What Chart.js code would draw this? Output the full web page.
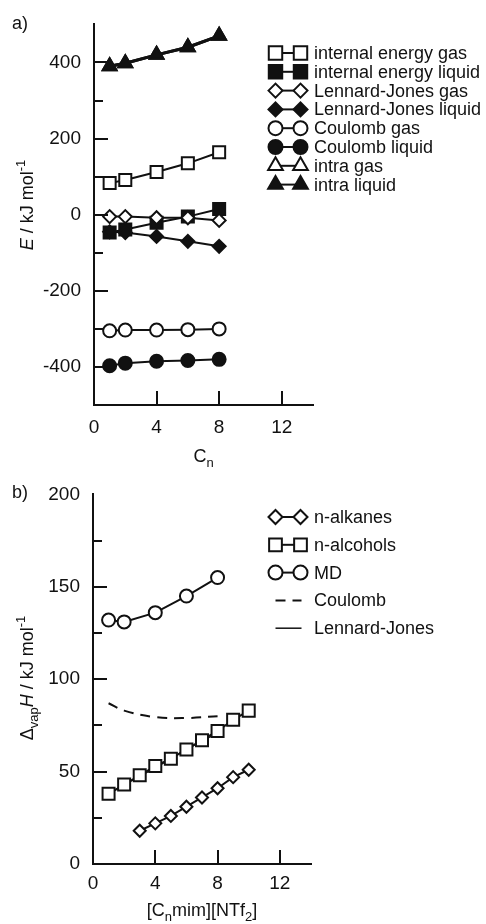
<!DOCTYPE html>
<html>
<head>
<meta charset="utf-8">
<script src="https://cdn.jsdelivr.net/npm/chart.js@4"></script>
<style>
html, body { margin: 0; padding: 0; background: #fff; }
canvas { position: absolute; left: 0; }
#chartA { top: 0; }
#chartB { top: 470px; }
</style>
</head>
<body>
<canvas id="chartA" width="486" height="470"></canvas>
<canvas id="chartB" width="486" height="454"></canvas>
<script>
// a) energy terms vs alkyl chain length
const cnA = [1, 2, 4, 6, 8];
const internalGas = [83, 91, 112, 135, 164];
const internalLiquid = [-47, -39, -21, -5, 15];
const ljGas = [-5, -5, -8, -8, -15];
const ljLiquid = [-45, -47, -57, -70, -83];
const coulombGas = [-305, -303, -303, -302, -300];
const coulombLiquid = [-397, -390, -385, -383, -380];
const intraGas = [390, 398, 420, 440, 470];
const intraLiquid = [390, 398, 420, 440, 470];
const yTicksA = [400, 200, 0, -200, -400];

// b) vaporisation enthalpy
const cnMD = [1, 2, 4, 6, 8];
const md = [132, 131, 136, 145, 155];
const cnAlcohols = [1, 2, 3, 4, 5, 6, 7, 8, 9, 10];
const alcohols = [38, 43, 48, 53, 57, 62, 67, 72, 78, 83];
const cnAlkanes = [3, 4, 5, 6, 7, 8, 9, 10];
const alkanes = [18, 22, 26, 31, 36, 41, 47, 51];
const coulombH = [87, 83, 79.5, 79, 80];
const ljH = [38, 43, 52, 62, 71];
const yTicksB = [0, 50, 100, 150, 200];
const xTicks = [0, 4, 8, 12];

const INK = '#111';
const FF = '"Liberation Sans", Arial, Helvetica, sans-serif';
const reg = '18px ' + FF;
const ital = 'italic 18px ' + FF;
const small = '13px ' + FF;

function series(xs, ys, style, filled, radius, extra) {
  return Object.assign({
    data: xs.map((x, i) => ({ x: x, y: ys[i] })),
    borderColor: INK,
    backgroundColor: filled ? INK : '#fff',
    pointStyle: style,
    pointRadius: radius,
    pointBorderWidth: 2,
    pointBackgroundColor: filled ? INK : '#fff',
    pointBorderColor: INK,
    borderWidth: 2,
    tension: 0,
    fill: false
  }, extra || {});
}

function richWidth(ctx, parts) {
  let w = 0;
  parts.forEach(p => { ctx.font = p.font; w += ctx.measureText(p.t).width; });
  return w;
}
function drawRich(ctx, parts, cx, y, rotate) {
  ctx.save();
  ctx.translate(cx, y);
  if (rotate) ctx.rotate(-Math.PI / 2);
  let x = -richWidth(ctx, parts) / 2;
  ctx.textBaseline = 'alphabetic';
  ctx.textAlign = 'left';
  parts.forEach(p => {
    ctx.font = p.font;
    ctx.fillText(p.t, x, p.dy || 0);
    x += ctx.measureText(p.t).width;
  });
  ctx.restore();
}

// inward tick marks, like the printed figure
const paperTicks = {
  id: 'paperTicks',
  afterDraw(chart, args, opts) {
    const { ctx, chartArea: a } = chart;
    const xs = chart.scales.x, ys = chart.scales.y;
    ctx.save();
    ctx.strokeStyle = INK;
    ctx.lineWidth = 2;
    ctx.beginPath();
    ys.ticks.forEach(t => {
      if (t.value <= ys.min || t.value >= ys.max) return;
      const py = Math.round(ys.getPixelForValue(t.value));
      const len = t.value % opts.yMajor === 0 ? 14 : 9;
      ctx.moveTo(a.left, py);
      ctx.lineTo(a.left + len, py);
    });
    xs.ticks.forEach(t => {
      if (t.value <= xs.min || t.value >= xs.max) return;
      const px = Math.round(xs.getPixelForValue(t.value));
      ctx.moveTo(px, a.bottom);
      ctx.lineTo(px, a.bottom - 14);
    });
    ctx.stroke();
    ctx.restore();
  }
};

// titles, panel letter and the legend
const paperText = {
  id: 'paperText',
  afterDraw(chart, args, opts) {
    const ctx = chart.ctx;
    const a = chart.chartArea;
    ctx.save();
    ctx.fillStyle = INK;
    ctx.font = reg;
    ctx.textBaseline = 'alphabetic';
    ctx.fillText(opts.panel, 12, opts.panelY);
    drawRich(ctx, opts.yTitle, 33, opts.yTitleY, true);
    drawRich(ctx, opts.xTitle, (a.left + a.right) / 2, opts.xTitleY, false);

    opts.legend.forEach((it, i) => {
      const y = opts.legendTop + i * opts.legendStep;
      const x1 = 275.5, x2 = 300.5;
      ctx.strokeStyle = INK;
      ctx.lineWidth = it.lineWidth || 2;
      ctx.setLineDash(it.dash || []);
      ctx.beginPath();
      ctx.moveTo(x1, y);
      ctx.lineTo(x2 + 1, y);
      ctx.stroke();
      ctx.setLineDash([]);
      if (it.style) {
        ctx.fillStyle = it.filled ? INK : '#fff';
        ctx.lineWidth = 2;
        [x1, x2].forEach(px => Chart.helpers.drawPoint(ctx, {
          pointStyle: it.style, radius: it.radius, rotation: 0, borderWidth: 2
        }, px, y));
      }
      ctx.fillStyle = INK;
      ctx.font = reg;
      ctx.textBaseline = 'middle';
      ctx.fillText(it.label, 314, y + 1);
    });
    ctx.restore();
  }
};

function axisScales(xHeight, yWidth, yMin, yMax, yStep, yLabels, xPad) {
  return {
    x: {
      type: 'linear', min: 0, max: 14,
      afterFit: s => { s.height = xHeight; },
      grid: { display: false, drawTicks: false },
      border: { color: INK, width: 2 },
      ticks: {
        stepSize: 4, includeBounds: false, padding: xPad, maxRotation: 0, autoSkip: false,
        color: INK, font: { family: FF, size: 19 },
        callback: v => xTicks.includes(v) ? String(v) : ''
      }
    },
    y: {
      type: 'linear', min: yMin, max: yMax,
      afterFit: s => { s.width = yWidth; },
      grid: { display: false, drawTicks: false },
      border: { color: INK, width: 2 },
      ticks: {
        stepSize: yStep, padding: 13, autoSkip: false,
        color: INK, font: { family: FF, size: 19 },
        callback: v => yLabels.includes(v) ? String(v) : ''
      }
    }
  };
}

new Chart(document.getElementById('chartA'), {
  type: 'line',
  data: {
    datasets: [
      series(cnA, ljGas, 'rectRot', false, 6.5, { order: 1 }),
      series(cnA, ljLiquid, 'rectRot', true, 6.5, { order: 2 }),
      series(cnA, internalLiquid, 'rect', true, 8.5, { order: 3 }),
      series(cnA, internalGas, 'rect', false, 8.5, { order: 4 }),
      series(cnA, coulombGas, 'circle', false, 6.5, { order: 5 }),
      series(cnA, coulombLiquid, 'circle', true, 6.5, { order: 6 }),
      series(cnA, intraLiquid, 'triangle', true, 8, { order: 7, borderWidth: 3 }),
      series(cnA, intraGas, 'triangle', false, 8, { order: 8, borderWidth: 3 })
    ]
  },
  options: {
    responsive: false, animation: false, devicePixelRatio: 1,
    layout: { padding: { left: 0, top: 19, right: 173, bottom: 0 } },
    plugins: {
      legend: { display: false }, tooltip: { enabled: false },
      paperTicks: { yMajor: 200 },
      paperText: {
        panel: 'a)', panelY: 29,
        yTitle: [{ t: 'E', font: ital }, { t: ' / kJ mol', font: reg }, { t: '-1', font: small, dy: -8 }],
        yTitleY: 205,
        xTitle: [{ t: 'C', font: reg }, { t: 'n', font: small, dy: 5 }],
        xTitleY: 462,
        legendTop: 53, legendStep: 18.8,
        legend: [
          { label: 'internal energy gas', style: 'rect', filled: false, radius: 9.5 },
          { label: 'internal energy liquid', style: 'rect', filled: true, radius: 9.5 },
          { label: 'Lennard-Jones gas', style: 'rectRot', filled: false, radius: 7 },
          { label: 'Lennard-Jones liquid', style: 'rectRot', filled: true, radius: 7 },
          { label: 'Coulomb gas', style: 'circle', filled: false, radius: 7 },
          { label: 'Coulomb liquid', style: 'circle', filled: true, radius: 7 },
          { label: 'intra gas', style: 'triangle', filled: false, radius: 8.5 },
          { label: 'intra liquid', style: 'triangle', filled: true, radius: 8.5 }
        ]
      }
    },
    scales: axisScales(65, 94, -500, 500, 100, yTicksA, 11)
  },
  plugins: [paperTicks, paperText]
});

new Chart(document.getElementById('chartB'), {
  type: 'line',
  data: {
    datasets: [
      series(cnMD, md, 'circle', false, 6.5, { order: 1 }),
      series(cnAlcohols, alcohols, 'rect', false, 8.5, { order: 2 }),
      series(cnAlkanes, alkanes, 'rectRot', false, 6, { order: 3 }),
      series(cnMD, ljH, false, false, 0, { order: 4, borderWidth: 1.5 }),
      series(cnMD, coulombH, false, false, 0, { order: 5, borderDash: [10, 7], tension: 0.4 })
    ]
  },
  options: {
    responsive: false, animation: false, devicePixelRatio: 1,
    layout: { padding: { left: 0, top: 22, right: 175, bottom: 0 } },
    plugins: {
      legend: { display: false }, tooltip: { enabled: false },
      paperTicks: { yMajor: 50 },
      paperText: {
        panel: 'b)', panelY: 28,
        yTitle: [{ t: '\u0394', font: reg }, { t: 'vap', font: small, dy: 5 }, { t: 'H', font: ital },
                 { t: ' / kJ mol', font: reg }, { t: '-1', font: small, dy: -8 }],
        yTitleY: 208,
        xTitle: [{ t: '[C', font: reg }, { t: 'n', font: small, dy: 5 }, { t: 'mim][NTf', font: reg },
                 { t: '2', font: small, dy: 5 }, { t: ']', font: reg }],
        xTitleY: 446,
        legendTop: 47, legendStep: 27.8,
        legend: [
          { label: 'n-alkanes', style: 'rectRot', filled: false, radius: 7 },
          { label: 'n-alcohols', style: 'rect', filled: false, radius: 9 },
          { label: 'MD', style: 'circle', filled: false, radius: 7 },
          { label: 'Coulomb', dash: [10, 7] },
          { label: 'Lennard-Jones', lineWidth: 1.5 }
        ]
      }
    },
    scales: axisScales(60, 93, 0, 200, 25, yTicksB, 8)
  },
  plugins: [paperTicks, paperText]
});
</script>
</body>
</html>
